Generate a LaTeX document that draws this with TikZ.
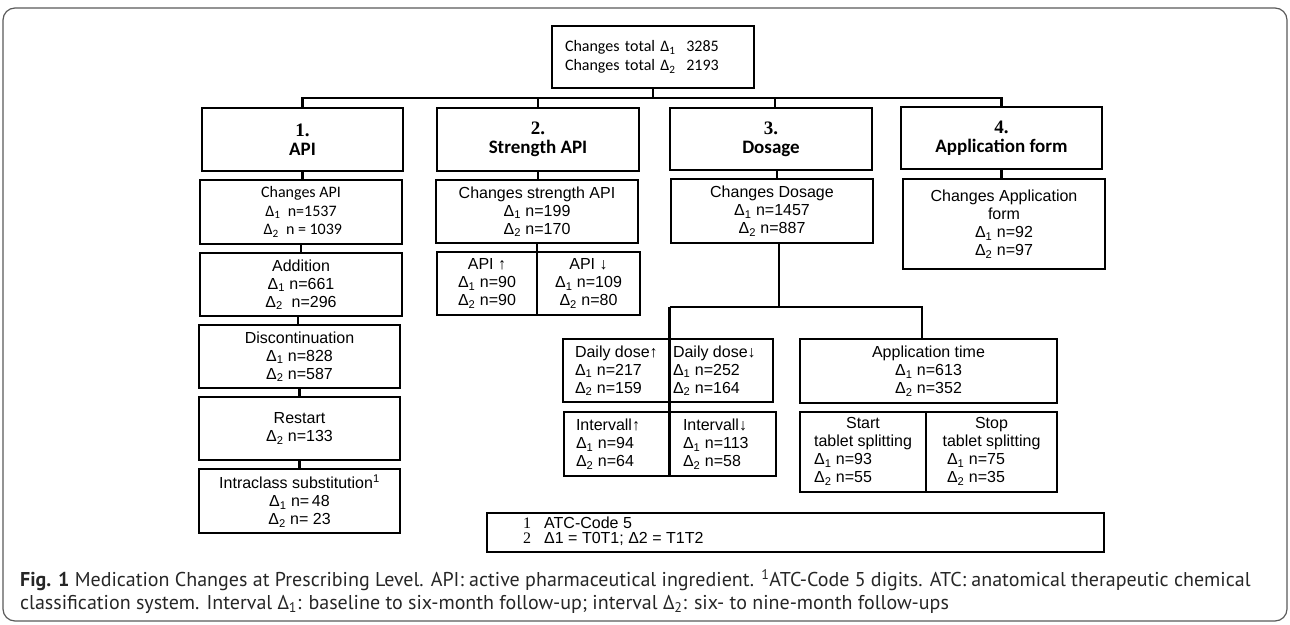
\documentclass[tikz,border=0pt]{standalone}
\usepackage{fontspec}
\setmainfont{Liberation Sans}
\newfontfamily\calfont{Carlito}
\newfontfamily\tnr{Liberation Serif}
\newfontfamily\capfont{PT Sans}
\newcommand\dlt[1]{Δ\textsubscript{#1}}
\begin{document}
\begin{tikzpicture}[x=1pt,y=-1pt,
  box/.style={draw, line width=2.4pt, inner sep=0pt, align=center, font=\fontsize{16}{18}\selectfont},
  hd/.style={font=\bfseries\fontsize{19}{19}\selectfont},
  cal/.style={font=\calfont\fontsize{16}{18.5}\selectfont},
  txt/.style={align=left, inner sep=0pt, font=\fontsize{16}{18}\selectfont},
  conn/.style={line width=2.8pt},
  captxt/.style={inner sep=0pt, anchor=west, text=black!85, font=\capfont\fontsize{20}{24}\selectfont}]
\useasboundingbox (0,0) rectangle (1290,624);
\draw[black!65, line width=1.2pt, rounded corners=12pt] (3,8) rectangle (1287,621);

% top
\node[box, cal, minimum width=202pt, minimum height=62pt, text width=176pt, align=left] (top) at (653,57)
  {Changes total \dlt{1}\ \ 3285\\Changes total \dlt{2}\ \ 2193};

% headings
\node[box, hd, minimum width=201pt, minimum height=63pt] (b1) at (302.5,139.5) {{\tnr 1.}\\{\calfont API}};
\node[box, hd, minimum width=202pt, minimum height=63pt] (b2) at (538,139.5) {{\tnr 2.}\\{\calfont Strength API}};
\node[box, hd, minimum width=202pt, minimum height=62pt] (b3) at (771,139) {{\tnr 3.}\\{\calfont Dosage}};
\node[box, hd, minimum width=201pt, minimum height=62pt] (b4) at (1001.5,138) {{\tnr 4.}\\{\calfont Application form}};

% second row
\node[box, cal, minimum width=202pt, minimum height=64pt] (c1) at (301,212) {Changes API\\\dlt{1}\ \ n=1537\\\ \dlt{2}\ \ n = 1039};
\node[box, minimum width=202pt, minimum height=63pt] (c2) at (537,211.5) {Changes strength API\\\dlt{1} n=199\\\dlt{2} n=170};
\node[box, minimum width=202pt, minimum height=64pt] (c3) at (772,211) {Changes Dosage\\\dlt{1} n=1457\\\dlt{2} n=887};
\node[box, minimum width=202pt, minimum height=90pt] (c4) at (1004,224) {Changes Application\\form\\\dlt{1} n=92\\\dlt{2} n=97};

% API column
\node[box, minimum width=202pt, minimum height=63pt] (add) at (301,284.5) {Addition\\\dlt{1} n=661\\\dlt{2}\ \ n=296};
\node[box, minimum width=201pt, minimum height=63pt] (disc) at (299.5,356.5) {Discontinuation\\\dlt{1} n=828\\\dlt{2} n=587};
\node[box, minimum width=201pt, minimum height=63pt] (rest) at (299.5,428.5) {Restart\\\dlt{2} n=133};
\node[box, minimum width=201pt, minimum height=64pt] (intra) at (299.5,501) {Intraclass substitution\textsuperscript{1}\\\dlt{1} n=\,48\\\dlt{2} n=\ 23};

% strength split
\node[box, minimum width=100pt, minimum height=63pt] (sL) at (487,283.5) {API ↑\\\dlt{1} n=90\\\dlt{2} n=90};
\node[box, minimum width=103pt, minimum height=63pt] (sR) at (588.5,283.5) {API ↓\\\dlt{1} n=109\\\dlt{2} n=80};

% dosage split
\node[box, minimum width=106pt, minimum height=63pt] (dL) at (616,370.5) {};
\node[box, minimum width=104pt, minimum height=63pt] (dR) at (721,370.5) {};
\node[txt, anchor=west] (dLt) at ([xshift=13pt]dL.west) {Daily dose↑\\\dlt{1} n=217\\\dlt{2} n=159};
\node[txt, anchor=west] (dRt) at ([xshift=5pt]dR.west) {Daily dose↓\\\dlt{1} n=252\\\dlt{2} n=164};
\node[box, minimum width=106pt, minimum height=64pt] (iL) at (617,444) {};
\node[box, minimum width=106pt, minimum height=64pt] (iR) at (723,444) {};
\node[txt, anchor=west] (iLt) at ([xshift=13pt]iL.west) {Intervall↑\\\dlt{1} n=94\\\dlt{2} n=64};
\node[txt, anchor=west] (iRt) at ([xshift=14pt]iR.west) {Intervall↓\\\dlt{1} n=113\\\dlt{2} n=58};

\node[box, minimum width=257pt, minimum height=64pt] (at) at (928.5,371) {Application time\\\dlt{1} n=613\\\dlt{2} n=352};
\node[box, minimum width=126pt, minimum height=80pt] (tL) at (863,452)
  {\begin{tabular}{@{}l@{}}\multicolumn{1}{@{}c@{}}{Start}\\tablet splitting\\\dlt{1} n=93\\\dlt{2} n=55\end{tabular}};
\node[box, minimum width=131pt, minimum height=80pt] (tR) at (991.5,452)
  {\begin{tabular}{@{}l@{}}\multicolumn{1}{@{}c@{}}{Stop}\\tablet splitting\\\ \dlt{1} n=75\\\ \dlt{2} n=35\end{tabular}};

% legend
\node[box, line width=2pt, minimum width=617pt, minimum height=39pt] (leg) at (795.5,532.5) {};
\node[txt, anchor=west, font=\fontsize{16}{15}\selectfont] (legt) at ([xshift=37pt]leg.west)
  {\begin{tabular}{@{}l@{\hspace{13pt}}l@{}}{\tnr 1} & ATC-Code 5\\{\tnr 2} & Δ1 = T0T1; Δ2 = T1T2\end{tabular}};

% connectors
\coordinate (bus) at (653,98);
\draw[conn] (b1.north) |- (bus) -| (b4.north);
\draw[conn] (top.south) -- (top.south |- bus);
\draw[conn] (b2.north) -- (b2.north |- bus);
\draw[conn] ([xshift=4pt]b3.north) -- ([xshift=4pt]b3.north |- bus);
\draw[conn] (b1.south) -- (b1.south |- c1.north);
\draw[conn] (b2.south) -- (b2.south |- c2.north);
\draw[conn] ([xshift=6pt]b3.south) -- ([xshift=6pt]b3.south |- c3.north);
\draw[conn] (b4.south) -- (b4.south |- c4.north);
\draw[conn] (c1.south) -- (c1.south |- add.north);
\draw[conn] ([xshift=-3pt]add.south) -- ([xshift=-3pt]add.south |- disc.north);
\draw[conn] (disc.south) -- (disc.south |- rest.north);
\draw[conn] (rest.south) -- (rest.south |- intra.north);
\draw[conn] (c2.south) -- (c2.south |- sL.south);
\coordinate (hL) at (669.5,307);
\coordinate (hR) at (922,307);
\draw[conn] ([xshift=7pt]c3.south) |- (hL);
\draw[conn] (hL) -- (hR) -- (hR |- at.north);
\draw[conn] (hL) -- (hL |- iL.south);

% caption
\node[captxt] (cap1) at (20,580) {\textbf{Fig. 1} Medication Changes at Prescribing Level. API: active pharmaceutical ingredient. \textsuperscript{1}ATC-Code 5 digits. ATC: anatomical therapeutic chemical};
\node[captxt] (cap2) at (20,604) {classification system. Interval Δ\textsubscript{1}: baseline to six-month follow-up; interval Δ\textsubscript{2}: six- to nine-month follow-ups};
\end{tikzpicture}
\end{document}
